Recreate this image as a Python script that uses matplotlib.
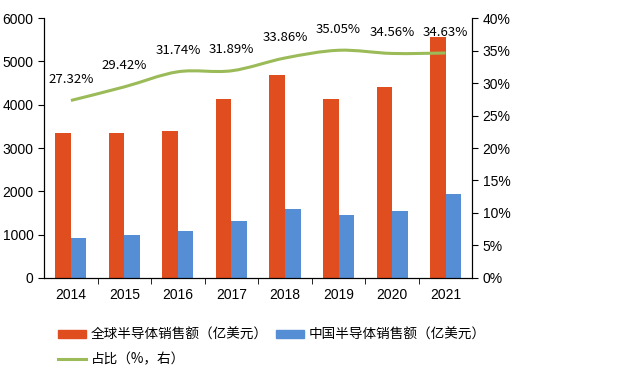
import numpy as np
import matplotlib.pyplot as plt
from matplotlib.path import Path
from matplotlib.patches import PathPatch, Patch
from matplotlib.lines import Line2D

plt.rcParams['font.family'] = ['Liberation Sans', 'Noto Sans CJK SC', 'DejaVu Sans']

years = ['2014', '2015', '2016', '2017', '2018', '2019', '2020', '2021']
global_sales = [3358, 3352, 3389, 4122, 4688, 4123, 4404, 5559]
china_sales = [920, 990, 1080, 1315, 1585, 1450, 1535, 1935]
share = [27.32, 29.42, 31.74, 31.89, 33.86, 35.05, 34.56, 34.63]

c_global = '#E04E1F'
c_china = '#558ED5'
c_line = '#9BBB59'
cjk = ['Noto Sans CJK SC', 'DejaVu Sans']

fig = plt.figure(figsize=(6.4, 3.7), dpi=100)
ax = fig.add_axes([0.069, 0.249, 0.669, 0.702])
ax2 = ax.twinx()

x = np.arange(len(years))
w = 0.29
ax.bar(x - w / 2, global_sales, w, color=c_global, zorder=2)
ax.bar(x + w / 2, china_sales, w, color=c_china, zorder=2)

ax.set_xlim(-0.5, len(years) - 0.5)
ax.set_ylim(0, 6000)
ax.set_yticks(range(0, 6001, 1000))
ax.set_xticks(x)
ax.set_xticklabels(years)
ax.set_xticks(np.arange(0.5, len(years) - 1, 1), minor=True)
ax.tick_params(axis='x', which='major', length=0, pad=7, labelsize=10)
ax.tick_params(axis='x', which='minor', length=4, direction='out')
ax.tick_params(axis='y', length=4, direction='out', labelsize=10)
ax.spines['top'].set_visible(False)

ax2.set_ylim(0, 40)
ax2.set_yticks(range(0, 41, 5))
ax2.set_yticklabels([f'{v}%' for v in range(0, 41, 5)])
ax2.tick_params(axis='y', length=4, direction='out', labelsize=10)
ax2.spines['top'].set_visible(False)

# smoothed line drawn as Bezier path through the data points
pts = np.column_stack([x, share]).astype(float)
verts = [tuple(pts[0])]
codes = [Path.MOVETO]
t = 1 / 6
for i in range(len(pts) - 1):
    p0 = pts[i - 1] if i > 0 else pts[i]
    p1 = pts[i]
    p2 = pts[i + 1]
    p3 = pts[i + 2] if i + 2 < len(pts) else pts[i + 1]
    c1 = p1 + (p2 - p0) * t
    c2 = p2 - (p3 - p1) * t
    verts += [tuple(c1), tuple(c2), tuple(p2)]
    codes += [Path.CURVE4] * 3
ax2.add_patch(PathPatch(Path(verts, codes), facecolor='none', edgecolor=c_line, lw=2.2, zorder=3))

for xi, s in zip(x, share):
    ax2.annotate(f'{s:.2f}%', (xi, s), xytext=(0, 15), textcoords='offset points',
                 ha='center', va='center', fontsize=9.5, family=cjk)

handles = [Patch(color=c_global), Line2D([], [], color=c_line, lw=2.2), Patch(color=c_china)]
labels = ['全球半导体销售额（亿美元）', '占比（%，右）', '中国半导体销售额（亿美元）']
fig.legend(handles, labels, ncol=2, loc='lower left', bbox_to_anchor=(0.072, -0.022),
           frameon=False, prop={'family': cjk, 'size': 9.8},
           handlelength=2.0, handleheight=0.5, columnspacing=0.6, handletextpad=0.4,
           labelspacing=0.75)

fig.savefig('out.png', dpi=100)
